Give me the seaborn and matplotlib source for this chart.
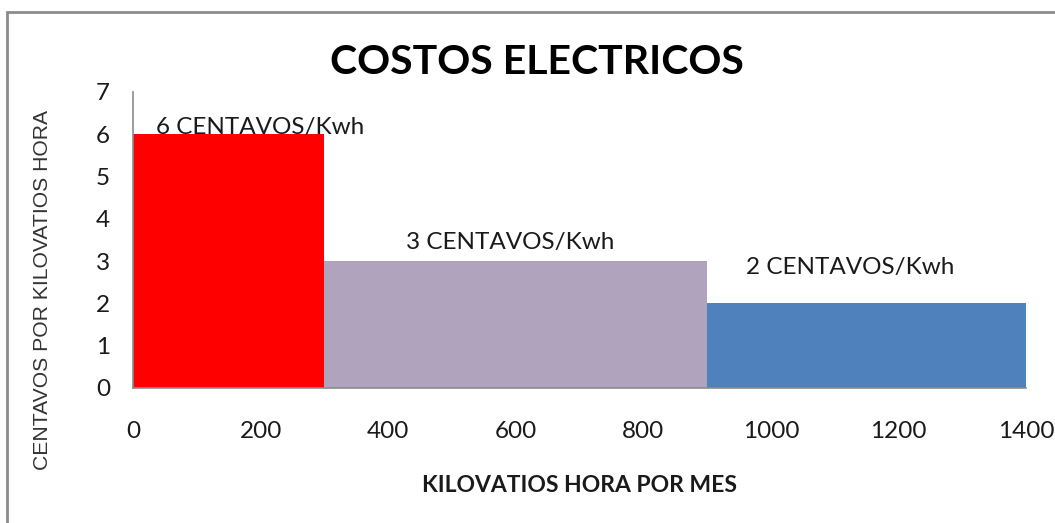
import numpy as np
import pandas as pd
import matplotlib
matplotlib.use("Agg")
import matplotlib.pyplot as plt
import seaborn as sns
from matplotlib.patches import Rectangle

# ── DATA ──────────────────────────────────────────────────
tramos = ["0-300", "300-900", "900-1400"]
limites = [0, 300, 900, 1400]
centavos = [6, 3, 2]
etiquetas = ["6 CENTAVOS/Kwh", "3 CENTAVOS/Kwh", "2 CENTAVOS/Kwh"]
etiqueta_pos = [(200, 6.17), (592, 3.45), (1125, 2.84)]
colores = {"0-300": "#FF0000", "300-900": "#AFA3BD", "900-1400": "#4F81BD"}

df = pd.DataFrame({
    "tramo": tramos,
    "kwh": [(a + b) / 2 for a, b in zip(limites[:-1], limites[1:])],
    "centavos": centavos,
})

# ── STYLE ─────────────────────────────────────────────────
sns.set_theme(style="white")
plt.rcParams["font.family"] = ["Lato", "DejaVu Sans"]

fig = plt.figure(figsize=(10.55, 5.23), dpi=100)
ax = fig.add_axes([133 / 1055, 1 - 388 / 523, 893 / 1055, 296 / 523])

sns.histplot(data=df, x="kwh", weights="centavos", hue="tramo",
             hue_order=tramos, palette=colores, bins=limites,
             multiple="layer", alpha=1, linewidth=0, legend=False, ax=ax)

for txt, (x, y) in zip(etiquetas, etiqueta_pos):
    ax.text(x, y, txt, ha="center", va="center", fontsize=17.5, color="#1a1a1a")

ax.set_xlim(0, 1400)
ax.set_ylim(0, 7)
ax.set_xticks(np.arange(0, 1401, 200))
ax.set_yticks(np.arange(0, 8, 1))

sns.despine(ax=ax)
for s in ["left", "bottom"]:
    ax.spines[s].set_color("#8C8C8C")
    ax.spines[s].set_linewidth(1.2)

ax.tick_params(axis="x", direction="inout", length=13, width=1.2,
               color="#8C8C8C", labelsize=17.5, labelcolor="#1a1a1a", pad=17)
ax.tick_params(axis="y", direction="out", length=6.5, width=1.2,
               color="#8C8C8C", labelsize=17.5, labelcolor="#1a1a1a", pad=10)

ax.set_xlabel("KILOVATIOS HORA POR MES", fontsize=16.5, fontweight="bold",
              color="#1a1a1a", labelpad=24)
ax.set_ylabel("CENTAVOS POR KILOVATIOS HORA", fontsize=15.2,
              color="#333333", family=["Liberation Sans", "DejaVu Sans"])
# label sits lower than the axes centre in the original
ax.yaxis.set_label_coords(-0.091, 0.33)

fig.text(537 / 1055, 1 - 63 / 523, "COSTOS ELECTRICOS", ha="center",
         va="center", fontsize=29.5, fontweight="bold", color="#000000")

# gray frame around the chart
fig.add_artist(Rectangle((7 / 1055, -0.05), 1.1, 1 - 12 / 523 + 0.05,
                         transform=fig.transFigure, fill=False,
                         edgecolor="#8C8C8C", linewidth=2))

fig.savefig("out.png", dpi=100)
